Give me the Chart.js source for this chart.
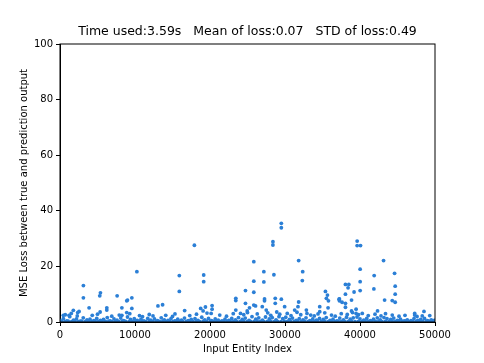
<!DOCTYPE html>
<html>
<head>
<meta charset="utf-8">
<script src="https://cdn.jsdelivr.net/npm/chart.js@4"></script>
<style>
  html, body { margin: 0; padding: 0; background: #fff; }
  #wrap { width: 484px; height: 363px; }
</style>
</head>
<body>
<div id="wrap"><canvas id="lossChart" width="484" height="363"></canvas></div>
<script>
const titleText = "Time used:3.59s   Mean of loss:0.07   STD of loss:0.49";
const xTicks = [0, 10000, 20000, 30000, 40000, 50000];
const yTicks = [0, 20, 40, 60, 80, 100];

// dense layer of losses sitting on the axis
const baseLoss = [
    [200, 0.2], [650, 0.1], [1100, 0.3], [1550, 0.1], [2000, 0.2], [2450, 0.1], [2900, 0.3], [3350, 0.1],
    [3800, 0.2], [4250, 0.1], [4700, 0.3], [5150, 0.2], [5600, 0.1], [6050, 0.2], [6500, 0.3], [6950, 0.1],
    [7400, 0.2], [7850, 0.1], [8300, 0.3], [8750, 0.2], [9200, 0.1], [9650, 0.2], [10100, 0.3], [10550, 0.1],
    [11000, 0.2], [11450, 0.1], [11900, 0.3], [12350, 0.2], [12800, 0.1], [13250, 0.2], [13700, 0.3], [14150, 0.1],
    [14600, 0.2], [15050, 0.1], [15500, 0.3], [15950, 0.2], [16400, 0.1], [16850, 0.2], [17300, 0.3], [17750, 0.1],
    [18200, 0.2], [18650, 0.1], [19100, 0.3], [19550, 0.2], [20000, 0.1], [20450, 0.2], [20900, 0.3], [21350, 0.1],
    [21800, 0.2], [22250, 0.1], [22700, 0.3], [23150, 0.2], [23600, 0.1], [24050, 0.2], [24500, 0.3], [24950, 0.1],
    [25400, 0.2], [25850, 0.1], [26300, 0.3], [26750, 0.2], [27200, 0.1], [27650, 0.2], [28100, 0.3], [28550, 0.1],
    [29000, 0.2], [29450, 0.1], [29900, 0.3], [30350, 0.2], [30800, 0.1], [31250, 0.2], [31700, 0.3], [32150, 0.1],
    [32600, 0.2], [33050, 0.1], [33500, 0.3], [33950, 0.2], [34400, 0.1], [34850, 0.2], [35300, 0.3], [35750, 0.1],
    [36200, 0.2], [36650, 0.1], [37100, 0.3], [37550, 0.2], [38000, 0.1], [38450, 0.2], [38900, 0.3], [39350, 0.1],
    [39800, 0.2], [40250, 0.1], [40700, 0.3], [41150, 0.2], [41600, 0.1], [42050, 0.2], [42500, 0.3], [42950, 0.1],
    [43400, 0.2], [43850, 0.1], [44300, 0.3], [44750, 0.2], [45200, 0.1], [45650, 0.2], [46100, 0.3], [46550, 0.1],
    [47000, 0.2], [47450, 0.1], [47900, 0.3], [48350, 0.2], [48800, 0.1], [49250, 0.2], [49700, 0.3]
];

// rough top of the band
const bandLoss = [
    [0, 0.6], [450, 1.2], [900, 0.4], [1300, 1.9], [1800, 0.7], [2200, 1.1], [2700, 0.3], [3100, 1.5],
    [3600, 0.8], [4000, 1.0], [4500, 0.5], [4900, 1.3], [5400, 0.6], [5800, 0.9], [6300, 1.6], [6700, 0.4],
    [7200, 1.1], [7600, 0.7], [8100, 1.4], [8500, 0.5], [9000, 1.8], [9400, 0.9], [9900, 1.2], [10300, 0.6],
    [10800, 1.0], [11200, 0.4], [11700, 1.3], [12100, 0.7], [12600, 1.1], [13000, 0.5], [13500, 1.5], [13900, 0.8],
    [14400, 0.6], [14800, 1.2], [15300, 0.4], [15700, 1.0], [16200, 0.7], [16600, 1.4], [17100, 0.5], [17500, 0.9],
    [18000, 1.2], [18400, 0.6], [18900, 1.7], [19300, 0.8], [19800, 1.3], [20200, 0.5], [20700, 1.1], [21100, 0.7],
    [21600, 0.4], [22000, 1.0], [22500, 0.6], [22900, 1.3], [23400, 0.8], [23800, 1.6], [24300, 0.9], [24700, 1.4],
    [25200, 0.6], [25600, 1.9], [26100, 1.0], [26500, 1.5], [27000, 0.7], [27400, 1.8], [27900, 1.1], [28300, 1.6],
    [28800, 0.8], [29200, 1.9], [29700, 1.2], [30100, 1.7], [30600, 0.9], [31000, 1.4], [31500, 0.6], [31900, 1.2],
    [32400, 0.8], [32800, 1.5], [33300, 0.5], [33700, 1.1], [34200, 0.7], [34600, 1.3], [35100, 0.9], [35500, 1.6],
    [36000, 0.6], [36400, 1.0], [36900, 0.4], [37300, 1.4], [37800, 0.8], [38200, 1.7], [38700, 1.0], [39100, 1.5],
    [39600, 1.8], [40000, 1.1], [40500, 0.7], [40900, 1.3], [41400, 0.5], [41800, 1.0], [42300, 1.5], [42700, 0.8],
    [43200, 1.6], [43600, 1.2], [44100, 0.9], [44500, 1.4], [45000, 0.6], [45400, 1.0], [45900, 0.4], [46300, 0.8],
    [46800, 0.5], [47200, 1.2], [47700, 0.6], [48100, 0.9], [48600, 1.3], [49000, 0.5], [49500, 0.8], [49900, 0.6]
];

// scattered small losses just above the band
const lowLoss = [
    [700, 2.6], [1500, 3.1], [2300, 2.2], [4300, 2.4], [5000, 2.8], [6900, 2.1], [7900, 2.5], [9300, 3.0],
    [10600, 2.3], [11900, 2.7], [12400, 2.2], [14100, 2.4], [15000, 2.0], [17300, 2.3], [18200, 2.8], [19600, 3.2],
    [21300, 2.5], [22200, 2.1], [23100, 3.0], [24500, 2.6], [25000, 3.4], [26300, 2.9], [27700, 3.3], [28100, 2.4],
    [28900, 3.6], [29300, 2.8], [30300, 3.1], [30800, 2.3], [31600, 3.5], [32100, 2.6], [33900, 2.2], [34400, 2.9],
    [35300, 3.3], [36200, 2.5], [36700, 2.1], [37500, 3.0], [38300, 2.7], [39000, 3.4], [39800, 2.6], [40300, 3.1],
    [41100, 2.3], [42000, 2.8], [42800, 2.2], [43400, 3.0], [44300, 2.5], [45200, 2.1], [46000, 2.4], [47600, 2.0],
    [48300, 2.2], [49300, 2.3]
];

const highLoss = [
    [10250, 18.1], [3120, 13.1], [3120, 8.7], [5390, 10.5], [5300, 9.4], [7620, 9.4], [9000, 7.9], [9580, 8.7],
    [8900, 7.6], [3880, 5.1], [6240, 5.1], [6240, 4.3], [5350, 3.6], [8250, 5.1], [9580, 4.9], [1780, 4.2],
    [2540, 3.8], [2360, 3.4], [8900, 3.4], [13060, 5.8], [440, 2.4], [1200, 2.4], [11000, 1.9], [8250, 2.4],
    [17920, 27.6], [15910, 16.7], [19160, 16.9], [19160, 14.5], [15910, 11.0], [25840, 21.7], [25840, 14.7], [25840, 10.7],
    [24730, 11.3], [23440, 8.5], [23440, 7.7], [13680, 6.2], [16620, 4.1], [15330, 2.9], [18760, 4.9], [19390, 5.4],
    [19080, 4.0], [20280, 5.9], [20280, 4.6], [20150, 3.1], [24730, 6.7], [25270, 5.1], [23440, 4.3], [24960, 4.0],
    [24070, 3.1], [25840, 6.1],
    [29510, 35.5], [29510, 33.9], [28390, 28.9], [28390, 27.7], [31820, 22.1], [27180, 18.1], [32360, 18.1], [28520, 17.0],
    [27180, 14.4], [32310, 14.9], [35390, 11.0], [35660, 9.7], [35520, 8.5], [35790, 7.6], [27270, 8.3], [27270, 7.6],
    [28700, 8.5], [29510, 8.2], [28700, 6.7], [31820, 7.2], [31730, 5.5], [37210, 8.2], [34630, 5.5], [35740, 5.1],
    [26070, 5.8], [26970, 5.5], [27500, 4.3], [29950, 5.5], [31290, 4.3], [32850, 4.3], [32930, 3.1], [33430, 2.5],
    [34630, 3.7],
    [39620, 29.1], [39620, 27.5], [40070, 27.5], [43140, 22.1], [40020, 19.0], [44610, 17.5], [41890, 16.7], [40020, 14.5],
    [44690, 12.9], [38060, 13.5], [38510, 13.5], [38410, 12.3], [40020, 11.3], [41850, 11.9], [39210, 10.8], [38060, 10.0],
    [44690, 10.0], [37260, 8.3], [37260, 7.6], [37610, 7.1], [38870, 7.9], [43280, 7.9], [44300, 7.7], [44690, 7.1],
    [38060, 6.7], [38060, 5.3], [39480, 4.6], [38870, 4.0], [42340, 4.0], [47290, 3.1], [47290, 2.5], [48530, 3.8],
    [39480, 3.1]
];

const points = baseLoss.concat(bandLoss, lowLoss, highLoss).map(p => ({ x: p[0], y: p[1] }));

const frameAndTitle = {
    id: "frameAndTitle",
    afterDraw(chart) {
        const { ctx, chartArea: a } = chart;
        ctx.save();
        ctx.strokeStyle = "#000";
        ctx.lineWidth = 1;
        ctx.strokeRect(a.left, a.top, a.right - a.left, a.bottom - a.top);
        ctx.fillStyle = "#000";
        ctx.font = "12.5px 'DejaVu Sans'";
        ctx.textAlign = "center";
        ctx.textBaseline = "middle";
        ctx.fillText(titleText, (a.left + a.right) / 2, 32);
        ctx.restore();
    }
};

const tickFont = { family: "'DejaVu Sans'", size: 10 };

new Chart(document.getElementById("lossChart"), {
    type: "scatter",
    data: {
        datasets: [{
            data: points,
            backgroundColor: "#2b7fd6",
            borderWidth: 0,
            pointRadius: 1.9,
            clip: 0
        }]
    },
    options: {
        responsive: false,
        animation: false,
        layout: { padding: { top: 44, right: 49, left: 0, bottom: 0 } },
        plugins: {
            legend: { display: false },
            tooltip: { enabled: false }
        },
        scales: {
            x: {
                type: "linear",
                min: 0,
                max: 50000,
                afterBuildTicks: s => { s.ticks = xTicks.map(v => ({ value: v })); },
                afterFit: s => { s.height = 41; },
                ticks: { color: "#000", font: tickFont, padding: 3, maxRotation: 0, callback: v => String(v) },
                grid: { drawOnChartArea: false, drawTicks: true, tickLength: 4, color: "#000" },
                border: { color: "#000" },
                title: { display: true, text: "Input Entity Index", color: "#000", font: tickFont, padding: { top: 0, bottom: 8 } }
            },
            y: {
                min: 0,
                max: 100,
                afterBuildTicks: s => { s.ticks = yTicks.map(v => ({ value: v })); },
                afterFit: s => { s.width = 60; },
                ticks: { color: "#000", font: tickFont, padding: 3, callback: v => String(v) },
                grid: { drawOnChartArea: false, drawTicks: true, tickLength: 4, color: "#000" },
                border: { color: "#000" },
                title: { display: true, text: "MSE Loss between true and prediction output", color: "#000", font: tickFont, padding: { top: 18, bottom: 0 } }
            }
        }
    },
    plugins: [frameAndTitle]
});
</script>
</body>
</html>
